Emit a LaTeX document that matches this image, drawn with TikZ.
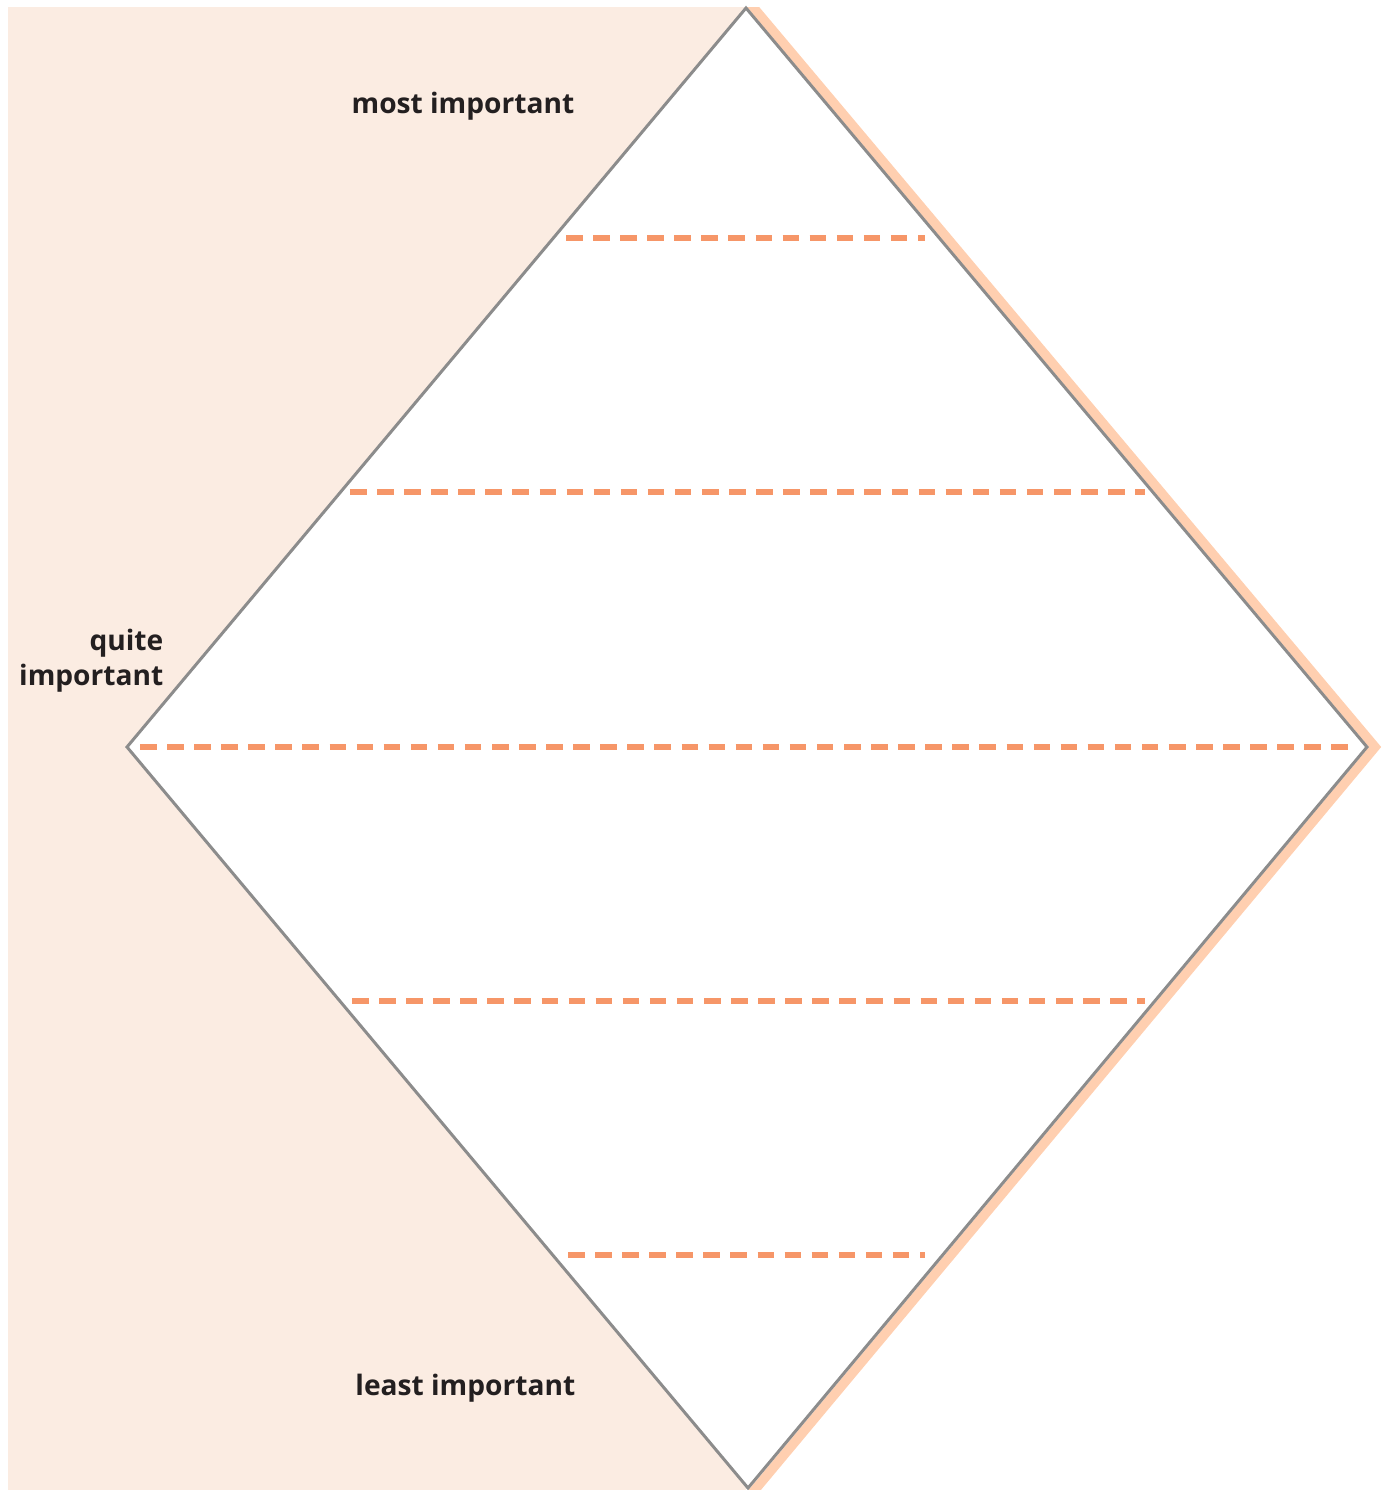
\documentclass[tikz,border=0pt]{standalone}
\usepackage{fontspec}
\setsansfont{Open Sans}
\usetikzlibrary{positioning}
\definecolor{peachbg}{RGB}{251,236,226}
\definecolor{peachedge}{RGB}{255,207,176}
\definecolor{levelorange}{RGB}{246,150,104}
\definecolor{rimgray}{RGB}{140,140,140}
\definecolor{labelblack}{RGB}{35,31,32}

\begin{document}
\begin{tikzpicture}[x=0.01cm,y=-0.01cm,
                label node/.style={font=\sffamily\bfseries\fontsize{8}{9.7}\selectfont,
                  text=labelblack,inner sep=0pt,anchor=base east,align=right},
                level line/.style={draw=levelorange,line width=1.6pt,dash pattern=on 4.7pt off 3pt},
                rim/.style={draw=rimgray,fill=white,line width=0.85pt,line join=miter},
                edge shade/.style={draw=peachedge,line width=2.7pt,line join=miter}]
\useasboundingbox (0,0) rectangle (1386,1490);
%Corners
    \coordinate (T) at (746,8);
    \coordinate (L) at (127,747);
    \coordinate (R) at (1367,747);
    \coordinate (B) at (748,1488);

%Background
    \begin{scope}
      \clip (0,7) rectangle (1386,1490);
      \draw[edge shade] (737,-12) -- (1375,747) -- (738,1510);
    \end{scope}
    \fill[peachbg] (8,7) rectangle (746,1490);
    \draw[rim] (T) -- (R) -- (B) -- (L) -- cycle;

%Levels
    \coordinate (l1a) at (566,238);  \coordinate (l1b) at (925,238);
    \coordinate (l2a) at (350,492);  \coordinate (l2b) at (1145,492);
    \coordinate (l3a) at (140,747);  \coordinate (l3b) at (1355,747);
    \coordinate (l4a) at (352,1001); \coordinate (l4b) at (1145,1001);
    \coordinate (l5a) at (568,1255); \coordinate (l5b) at (925,1255);

    \draw[level line] (l1a) -- (l1b);
    \draw[level line] (l2a) -- (l2b);
    \draw[level line] (l3a) -- (l3b);
    \draw[level line] (l4a) -- (l4b);
    \draw[level line] (l5a) -- (l5b);

%Labels
    \node[label node] (most) at (575,113) {most important};
    \node[label node] (quite) at (164,685) {quite\\important};
    \node[label node] (least) at (576,1395) {least important};
\end{tikzpicture}
\end{document}
